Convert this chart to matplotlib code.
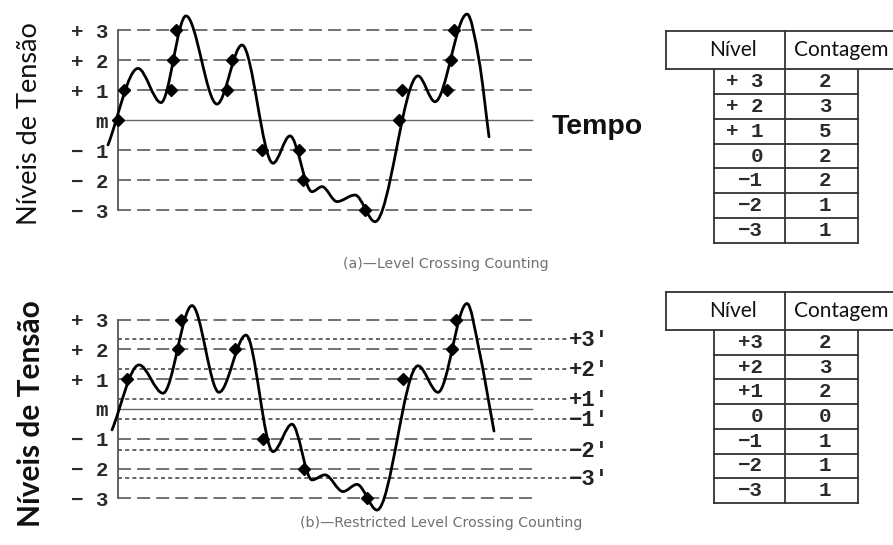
import numpy as np
import matplotlib
matplotlib.use("Agg")
import matplotlib.pyplot as plt
from matplotlib.path import Path
from matplotlib.patches import PathPatch

W, H = 893, 545

# ---------------- data ----------------
level_values = [3, 2, 1, 0, -1, -2, -3]
level_labels = ["+ 3", "+ 2", "+ 1", "m", "− 1", "− 2", "− 3"]

# waveform (a): knots (time, level)
wave_a_t = [-10, 20, 43, 68, 99, 124, 155, 172, 194, 204, 219, 237, 257, 300, 317, 349, 361, 371]
wave_a_v = [-0.83, 1.72, 0.58, 3.47, 0.53, 2.5, -1.44, -0.53, -2.39, -2.22, -2.72, -2.5, -3.39, 1.47, 0.61, 3.53, 2.0, -0.56]
# crossings counted in (a)
marks_a_t = [-1, 12, 50, 54, 62, 110, 117, 147, 182, 186, 249, 286, 292, 328, 334, 341]
marks_a_lv = [0, 1, 1, 2, 3, 1, 2, -1, -1, -2, -3, 0, 1, 1, 2, 3]

# waveform (b)
wave_b_t = [-6, 21, 45, 74, 101, 128, 155, 174, 194, 207, 225, 239, 259, 300, 320, 349, 361, 376]
wave_b_v = [-0.7, 1.48, 0.53, 3.47, 0.56, 2.48, -1.43, -0.51, -2.38, -2.21, -2.77, -2.53, -3.39, 1.45, 0.56, 3.54, 2.0, -0.74]
marks_b_t = [11, 60, 66, 119, 150, 187, 252, 292, 335, 341]
marks_b_lv = [1, 2, 3, 2, -1, -2, -3, 1, 2, 3]

primed_levels = [2.34, 1.34, 0.34, -0.34, -1.37, -2.33]
primed_labels = ["+3'", "+2'", "+1'", "−1'", "−2'", "−3'"]

table_a_levels = ["+ 3", "+ 2", "+ 1", "0", "−1", "−2", "−3"]
table_a_counts = ["2", "3", "5", "2", "2", "1", "1"]
table_b_levels = ["+3", "+2", "+1", "0", "−1", "−2", "−3"]
table_b_counts = ["2", "3", "2", "0", "1", "1", "1"]

caption_a = "(a)—Level Crossing Counting"
caption_b = "(b)—Restricted Level Crossing Counting"
ylabel_text = "Níveis de Tensão"

# ---------------- helpers ----------------
MONO = "Liberation Mono"
GRID = "#4a4a4a"


def add_px_axes(fig, left, top, w, h):
    return fig.add_axes([left / W, 1 - (top + h) / H, w / W, h / H])


def tangents(t, v):
    t = np.asarray(t, float); v = np.asarray(v, float)
    n = len(t); m = np.zeros(n)
    for i in range(n):
        if i == 0:
            m[i] = (v[1] - v[0]) / (t[1] - t[0])
        elif i == n - 1:
            m[i] = (v[-1] - v[-2]) / (t[-1] - t[-2])
        else:
            d0 = v[i] - v[i - 1]; d1 = v[i + 1] - v[i]
            m[i] = 0.0 if d0 * d1 <= 0 else (v[i + 1] - v[i - 1]) / (t[i + 1] - t[i - 1])
    return m


def wave_path(t, v):
    m = tangents(t, v)
    verts = [(t[0], v[0])]; codes = [Path.MOVETO]
    for i in range(len(t) - 1):
        dt = t[i + 1] - t[i]
        verts += [(t[i] + dt / 3, v[i] + m[i] * dt / 3),
                  (t[i + 1] - dt / 3, v[i + 1] - m[i + 1] * dt / 3),
                  (t[i + 1], v[i + 1])]
        codes += [Path.CURVE4] * 3
    return Path(verts, codes)


def crossing(path, t_guess, lv):
    pts = path.interpolated(60).vertices
    x, y = pts[:, 0], pts[:, 1]
    best = None
    for i in range(len(x) - 1):
        if (y[i] - lv) * (y[i + 1] - lv) <= 0 and y[i] != y[i + 1]:
            f = (lv - y[i]) / (y[i + 1] - y[i])
            xc = x[i] + f * (x[i + 1] - x[i])
            if best is None or abs(xc - t_guess) < abs(best - t_guess):
                best = xc
    return best if best is not None else t_guess


def panel(ax, wt, wv, mt, mlv, ylim, dash_end):
    ax.set_xlim(-18, 502)
    ax.set_ylim(*ylim)
    ax.patch.set_alpha(0)
    for s in ["top", "right", "bottom"]:
        ax.spines[s].set_visible(False)
    ax.spines["left"].set_position(("data", 0))
    ax.spines["left"].set_bounds(-3, 3)
    ax.spines["left"].set_color("#555555")
    ax.spines["left"].set_linewidth(1.3)
    ax.set_xticks([])
    ax.set_yticks(level_values)
    ax.set_yticklabels(level_labels, fontfamily=MONO, fontsize=15, fontweight="bold", color="#2a2a2a")
    ax.tick_params(axis="y", length=0, pad=7)
    dashed = [lv for lv in level_values if lv != 0]
    ax.hlines(dashed, 0, dash_end, colors=GRID, linewidth=1.1, linestyles=(0, (8.5, 4)))
    ax.hlines([0], 0, dash_end, colors="#666666", linewidth=1.0)
    p = wave_path(wt, wv)
    ax.add_patch(PathPatch(p, facecolor="none", edgecolor="black", linewidth=2.0,
                           capstyle="round", joinstyle="round", clip_on=False, zorder=5))
    xs = [crossing(p, a, b) for a, b in zip(mt, mlv)]
    ax.plot(xs, mlv, linestyle="none", marker="D", markersize=6, color="black",
            zorder=6, clip_on=False)


fig = plt.figure(figsize=(W / 100, H / 100), dpi=100)
fig.patch.set_facecolor("white")

# panel (a): m at y=120 px, 30 px / level
ax_a = add_px_axes(fig, 100, 5, 520, 230)
panel(ax_a, wave_a_t, wave_a_v, marks_a_t, marks_a_lv, (-115 / 30, 115 / 30), 415)
ax_a.text(434, -0.25, "Tempo", fontfamily="Liberation Sans", fontweight="bold",
          fontsize=20.5, ha="left", va="center", color="#111111")

# panel (b): m at y=409 px, 29.8 px / level
ax_b = add_px_axes(fig, 100, 290, 520, 238)
panel(ax_b, wave_b_t, wave_b_v, marks_b_t, marks_b_lv, (-119 / 29.8, 119 / 29.8), 415)
ax_b.hlines(primed_levels, 0, 449, colors=GRID, linewidth=1.2, linestyles=(0, (2.4, 1.9)))
for lv, lab in zip(primed_levels, primed_labels):
    ax_b.text(451, lv - 0.05, lab, fontfamily=MONO, fontweight="bold", fontsize=16,
              ha="left", va="center", color="#222222")

# overlay in pixel coordinates for labels, captions and tables
ov = fig.add_axes([0, 0, 1, 1])
ov.set_xlim(0, W); ov.set_ylim(H, 0); ov.axis("off"); ov.patch.set_alpha(0)

ov.text(30, 124, ylabel_text, rotation=90, fontfamily="Lato", fontsize=19.5,
        ha="center", va="center", color="#111111")
ov.text(31, 414, ylabel_text, rotation=90, fontfamily="Lato", fontweight="bold",
        fontsize=21.5, ha="center", va="center", color="#111111")

ov.text(343, 264, caption_a, fontfamily="DejaVu Sans", fontsize=10.2, color="#707070",
        ha="left", va="center")
ov.text(300, 523, caption_b, fontfamily="DejaVu Sans", fontsize=10.2, color="#707070",
        ha="left", va="center")


def draw_table(top, hdr_bottom, bottom, levels, counts):
    lc = "#333333"; lw = 1.3
    xl, xd, xr = 666, 785, 858
    # header
    ov.plot([xl, W], [top, top], color=lc, lw=lw)
    ov.plot([xl, W], [hdr_bottom, hdr_bottom], color=lc, lw=lw)
    ov.plot([xl, xl], [top, hdr_bottom], color=lc, lw=lw)
    ov.plot([xd, xd], [top, bottom], color=lc, lw=lw)
    ov.text(733, (top + hdr_bottom) / 2, "Nível", fontfamily="Lato", fontsize=15,
            ha="center", va="center", color="#111111")
    ov.text(841, (top + hdr_bottom) / 2, "Contagem", fontfamily="Lato", fontsize=15,
            ha="center", va="center", color="#111111")
    # body
    bl = 714
    ov.plot([bl, bl], [hdr_bottom, bottom], color=lc, lw=lw)
    ov.plot([xr, xr], [hdr_bottom, bottom], color=lc, lw=lw)
    n = len(levels)
    rh = (bottom - hdr_bottom) / n
    for i in range(n):
        y1 = hdr_bottom + (i + 1) * rh
        ov.plot([bl, xr], [y1, y1], color=lc, lw=lw)
        yc = hdr_bottom + (i + 0.5) * rh
        ov.text(763, yc, levels[i], fontfamily=MONO, fontweight="bold", fontsize=15,
                ha="right", va="center", color="#2a2a2a")
        ov.text(825, yc, counts[i], fontfamily=MONO, fontweight="bold", fontsize=15,
                ha="center", va="center", color="#2a2a2a")


draw_table(31, 69, 243, table_a_levels, table_a_counts)
draw_table(292, 330, 503, table_b_levels, table_b_counts)

fig.savefig("out.png", dpi=100, facecolor="white")
